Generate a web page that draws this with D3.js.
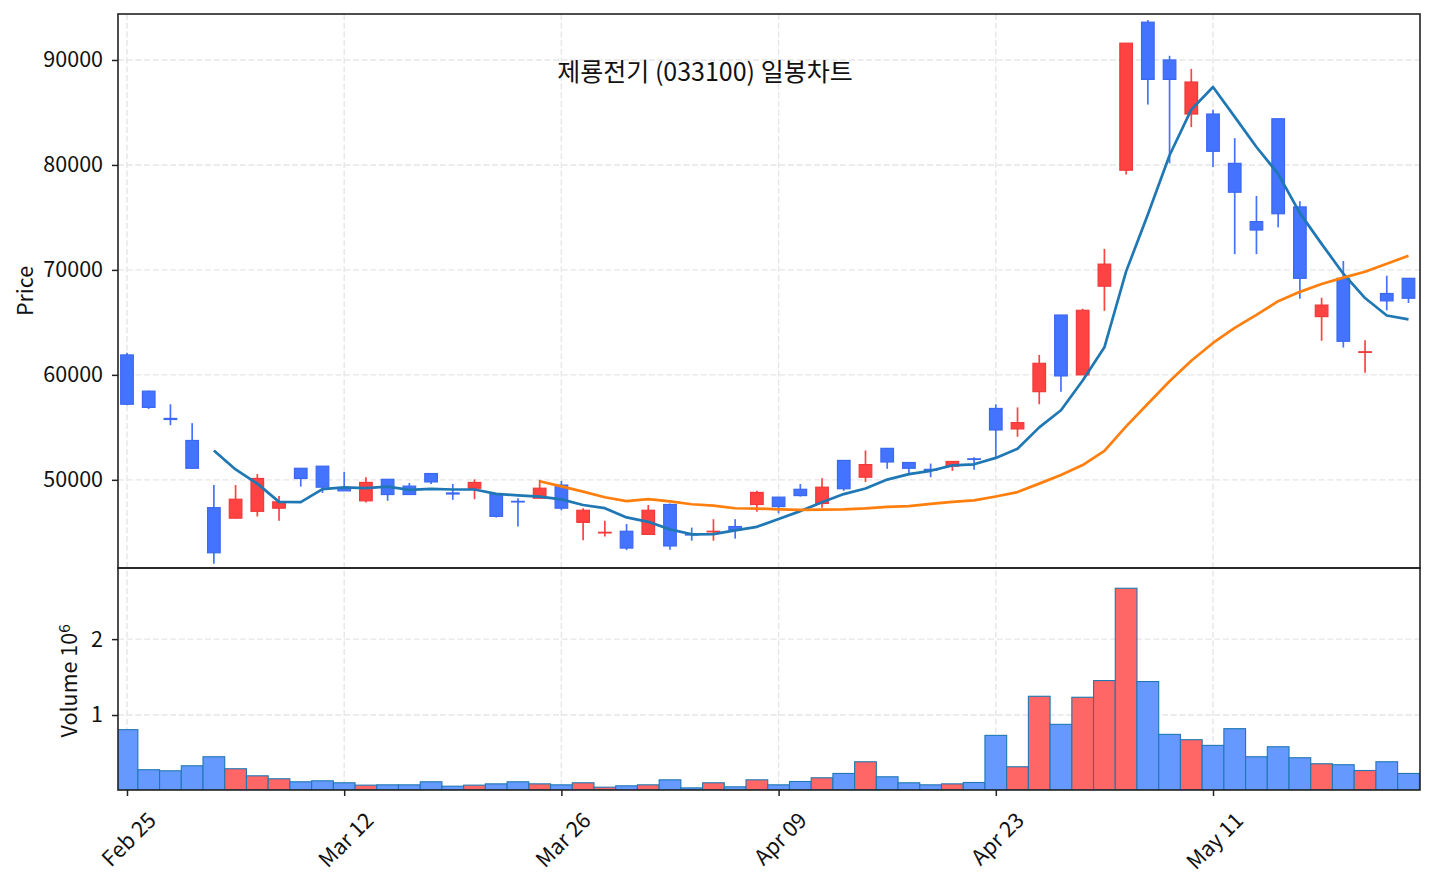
<!DOCTYPE html>
<html>
<head>
<meta charset="utf-8">
<script src="https://cdn.jsdelivr.net/npm/d3@7"></script>
<style>
  body { margin: 0; background: #fff; }
  svg { display: block; font-family: "Noto Sans CJK KR", "Noto Sans", sans-serif; }
</style>
</head>
<body>
<div id="chart"></div>
<script>
// 제룡전기 (033100) daily candles, MA5 / MA20 and volume

const opens  = [61900, 58450, 55850, 53750, 47350, 46350, 47000, 47300, 51100, 51300,
                49200, 48000, 50050, 49400, 50600, 48750, 49200, 48600, 47950, 48250,
                49500, 45950, 44950, 45100, 44800, 47650, 44800, 45050, 45550, 47650,
                48350, 49100, 47750, 51850, 50250, 53000, 51650, 51000, 51300, 52000,
                56800, 54850, 58400, 65700, 60000, 68450, 79500, 93600, 90000, 84850,
                84850, 80150, 74600, 84400, 76000, 65550, 69200, 62150, 67750, 69200];
const highs  = [62100, 58500, 57200, 55400, 49500, 49500, 50550, 48450, 51100, 51300,
                50750, 50250, 50050, 49700, 50600, 49600, 50050, 48600, 48250, 50000,
                49900, 47300, 46100, 45800, 47600, 47750, 45450, 46250, 46250, 48950,
                48350, 49600, 50150, 51850, 52800, 53000, 51650, 51550, 51750, 52150,
                57200, 56900, 61900, 65700, 66300, 72000, 91600, 93800, 90400, 89150,
                85250, 82550, 77050, 84400, 76550, 67350, 70850, 63300, 69450, 69200];
const lows   = [57100, 56750, 55200, 51100, 42000, 46300, 46500, 46100, 49350, 48750,
                48950, 47850, 48000, 48600, 49600, 48100, 48150, 46400, 45550, 48250,
                47100, 44250, 44600, 43300, 44800, 43350, 44200, 44200, 44400, 46950,
                46800, 48400, 47350, 48950, 49800, 51050, 50600, 50250, 50850, 50950,
                52150, 54100, 57200, 58400, 60000, 66100, 79100, 85750, 80150, 83600,
                79800, 71500, 71500, 74050, 67250, 63250, 62600, 60200, 66150, 66850];
const closes = [57200, 56900, 55750, 51100, 43050, 48150, 50130, 47900, 50130, 49300,
                48950, 49750, 48600, 48600, 49800, 48650, 49750, 46520, 47900, 49200,
                47300, 47100, 45000, 43500, 47100, 43700, 44750, 45100, 45250, 48800,
                47450, 48500, 49300, 49150, 51450, 51700, 51100, 50900, 51750, 51950,
                54750, 55450, 61100, 59900, 66150, 70550, 91600, 88150, 88150, 87900,
                81300, 77400, 73800, 75350, 69200, 66650, 63200, 62200, 67050, 67300];
const volumes = [807000, 279000, 265000, 331000, 450000, 292000, 199000, 160000, 120000, 133000,
                 107000, 76000, 80000, 80000, 120000, 62000, 76000, 93000, 120000, 93000,
                 80000, 107000, 49000, 67000, 80000, 146000, 40000, 107000, 54000, 146000,
                 80000, 124000, 173000, 230000, 384000, 186000, 107000, 80000, 93000, 111000,
                 732000, 318000, 1247000, 877000, 1234000, 1454000, 2670000, 1441000, 745000, 675000,
                 600000, 820000, 450000, 582000, 437000, 358000, 345000, 269000, 384000, 230000];

// moving average lines (MA5 starts at bar 4, MA20 at bar 19)
const ma5Start = 4;
const ma5 = [52800, 50990, 49636, 47900, 47872, 49122, 49282, 49206, 49346, 49040,
             49140, 49080, 49080, 48664, 48524, 48404, 48134, 47604, 47300, 46420,
             46000, 45280, 44810, 44830, 45180, 45520, 46270, 47020, 47860, 48640,
             49170, 50020, 50540, 50860, 51380, 51480, 52090, 52960, 55000, 56630,
             59470, 62630, 69860, 75270, 80920, 85270, 87420, 84580, 81710, 79150,
             75410, 72480, 69640, 67320, 65660, 65280];
const ma20Start = 19;
const ma20 = [49867, 49372, 48882, 48344, 47964, 48167, 47944, 47675, 47535, 47291,
              47266, 47191, 47129, 47164, 47191, 47274, 47426, 47494, 47713, 47905,
              48043, 48415, 48833, 49638, 50458, 51410, 52753, 55095, 57248, 59393,
              61348, 63040, 64485, 65710, 67020, 67908, 68655, 69260, 69825, 70590, 71358];

const tickIdx = [0, 10, 20, 30, 40, 50];
const tickLabels = ["Feb 25", "Mar 12", "Mar 26", "Apr 09", "Apr 23", "May 11"];
const priceTicks = [50000, 60000, 70000, 80000, 90000];
const volumeTicks = [1e6, 2e6];

// layout (panel edges in px)
const W = 1434, H = 884;
const pLeft = 118, pRight = 1420, pTop = 14, pMid = 568, pBottom = 790;
const fs = 21.5;

const upColor = "#ff4242", downColor = "#4473ff";
const upVol = "#ff6666", downVol = "#6699ff", volEdge = "#1f77b4";
const gridColor = "#e6e6e6", axisColor = "#222";

const svg = d3.select("#chart").append("svg")
  .attr("width", W)
  .attr("height", H);

const x = d3.scaleLinear().domain([-0.414, 59.53]).range([pLeft, pRight]);
const step = x(1) - x(0);
const y = d3.scaleLinear().domain([41600, 94380]).range([pMid, pTop]);
const yv = d3.scaleLinear()
  .domain([0.3 * d3.min(volumes), 1.1 * d3.max(volumes)])
  .range([pBottom, pMid]);

const defs = svg.append("defs");
defs.append("clipPath").attr("id", "clip-price")
  .append("rect").attr("x", pLeft).attr("y", pTop).attr("width", pRight - pLeft).attr("height", pMid - pTop);
defs.append("clipPath").attr("id", "clip-vol")
  .append("rect").attr("x", pLeft).attr("y", pMid).attr("width", pRight - pLeft).attr("height", pBottom - pMid);

// grid (dashed)
const grid = svg.append("g")
  .attr("stroke", gridColor)
  .attr("stroke-width", 1.4)
  .attr("stroke-dasharray", "6,2.7");
grid.append("g").selectAll("line")
  .data(tickIdx)
  .join("line")
  .attr("x1", d => x(d)).attr("x2", d => x(d))
  .attr("y1", pTop).attr("y2", pBottom);
grid.append("g").selectAll("line")
  .data(priceTicks)
  .join("line")
  .attr("x1", pLeft).attr("x2", pRight)
  .attr("y1", d => y(d)).attr("y2", d => y(d));
grid.append("g").selectAll("line")
  .data(volumeTicks)
  .join("line")
  .attr("x1", pLeft).attr("x2", pRight)
  .attr("y1", d => yv(d)).attr("y2", d => yv(d));

const bars = d3.range(opens.length).map(i => ({
  i, o: opens[i], h: highs[i], l: lows[i], c: closes[i], v: volumes[i], up: closes[i] >= opens[i]
}));

// volume bars
svg.append("g")
  .attr("clip-path", "url(#clip-vol)")
  .selectAll("rect")
  .data(bars)
  .join("rect")
  .attr("x", d => x(d.i) - step / 2)
  .attr("width", step)
  .attr("y", d => yv(d.v))
  .attr("height", d => pBottom - yv(d.v))
  .attr("fill", d => d.up ? upVol : downVol)
  .attr("stroke", volEdge)
  .attr("stroke-width", 1.1);

// candles
const candles = svg.append("g").attr("clip-path", "url(#clip-price)");
candles.append("g").selectAll("line")
  .data(bars)
  .join("line")
  .attr("x1", d => x(d.i)).attr("x2", d => x(d.i))
  .attr("y1", d => y(d.h)).attr("y2", d => y(d.l))
  .attr("stroke", d => d.up ? upColor : downColor)
  .attr("stroke-width", 1.7);
const bodyW = step * 0.58;
candles.append("g").selectAll("rect")
  .data(bars)
  .join("rect")
  .attr("x", d => x(d.i) - bodyW / 2)
  .attr("width", bodyW)
  .attr("y", d => y(Math.max(d.o, d.c)))
  .attr("height", d => Math.max(0.6, Math.abs(y(d.o) - y(d.c))))
  .attr("fill", d => d.up ? upColor : downColor)
  .attr("stroke", d => d.up ? "#f03a3a" : "#3b68f0")
  .attr("stroke-width", 1.2);

// moving averages
const maLine = start => d3.line()
  .x((d, k) => x(start + k))
  .y(d => y(d));
candles.append("path")
  .datum(ma5)
  .attr("d", maLine(ma5Start))
  .attr("fill", "none")
  .attr("stroke", "#1f77b4")
  .attr("stroke-width", 2.7)
  .attr("stroke-linejoin", "round");
candles.append("path")
  .datum(ma20)
  .attr("d", maLine(ma20Start))
  .attr("fill", "none")
  .attr("stroke", "#ff7f0e")
  .attr("stroke-width", 2.7)
  .attr("stroke-linejoin", "round");

// axes
const styleAxis = g => {
  g.select(".domain").remove();
  g.selectAll(".tick line").attr("stroke", axisColor).attr("stroke-width", 1.5);
  g.selectAll(".tick text").attr("fill", "#111").attr("font-size", fs + "px")
    .attr("font-family", "'Noto Sans CJK KR', 'Noto Sans', sans-serif");
};

svg.append("g")
  .attr("transform", `translate(${pLeft},0)`)
  .call(d3.axisLeft(y).tickValues(priceTicks).tickFormat(d3.format("d")).tickSize(6).tickPadding(9))
  .call(styleAxis);

svg.append("g")
  .attr("transform", `translate(${pLeft},0)`)
  .call(d3.axisLeft(yv).tickValues(volumeTicks).tickFormat(d => d / 1e6).tickSize(6).tickPadding(9))
  .call(styleAxis);

const xAxis = svg.append("g")
  .attr("transform", `translate(0,${pBottom})`)
  .call(d3.axisBottom(x).tickValues(tickIdx).tickFormat((d, k) => tickLabels[k]).tickSize(6))
  .call(styleAxis);

// rotated date labels, centred under each tick like matplotlib's rotation=45
xAxis.selectAll(".tick text")
  .attr("y", 0)
  .attr("dy", null)
  .attr("text-anchor", "middle")
  .attr("dominant-baseline", "central")
  .attr("transform", function() {
    const len = this.getComputedTextLength();
    const off = 20 + (len + fs * 0.66) / (2 * Math.SQRT2);
    return `translate(0,${off}) rotate(-45)`;
  });

// panel frames
svg.append("rect")
  .attr("x", pLeft).attr("y", pTop)
  .attr("width", pRight - pLeft).attr("height", pMid - pTop)
  .attr("fill", "none").attr("stroke", axisColor).attr("stroke-width", 1.6);
svg.append("rect")
  .attr("x", pLeft).attr("y", pMid)
  .attr("width", pRight - pLeft).attr("height", pBottom - pMid)
  .attr("fill", "none").attr("stroke", axisColor).attr("stroke-width", 1.6);

// axis labels
svg.append("text")
  .attr("transform", `translate(33,${(pTop + pMid) / 2}) rotate(-90)`)
  .attr("text-anchor", "middle")
  .attr("font-size", fs + "px")
  .attr("fill", "#111")
  .text("Price");

const vLabel = svg.append("text")
  .attr("transform", `translate(77,${(pMid + pBottom) / 2 + 2}) rotate(-90)`)
  .attr("text-anchor", "middle")
  .attr("font-size", fs + "px")
  .attr("fill", "#111");
vLabel.append("tspan").text("Volume 10");
vLabel.append("tspan").attr("dy", "-0.45em").attr("font-size", (fs * 0.7) + "px").text("6");

// title
svg.append("text")
  .attr("x", 705)
  .attr("y", 81)
  .attr("text-anchor", "middle")
  .attr("font-size", "25px")
  .attr("fill", "#111")
  .text("제룡전기 (033100) 일봉차트");
</script>
</body>
</html>
